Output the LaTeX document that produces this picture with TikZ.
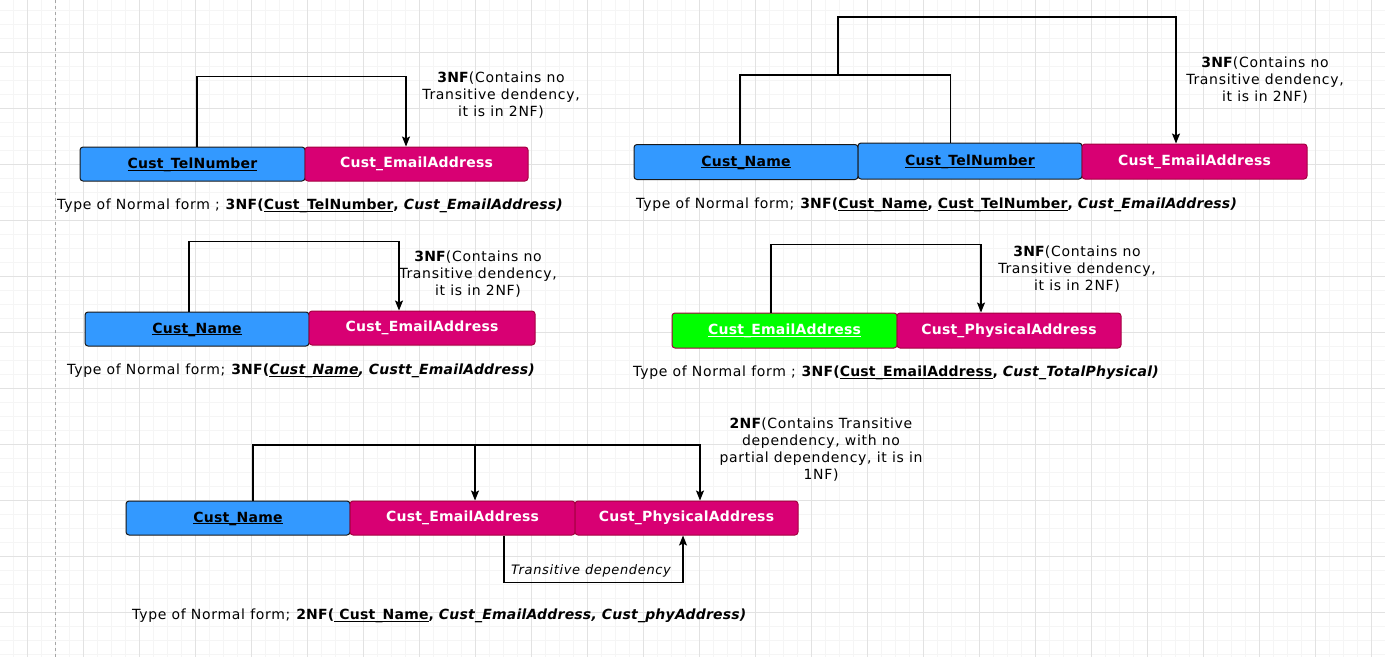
\documentclass[tikz,border=0pt]{standalone}
\usepackage{fontspec}
\setmainfont{DejaVu Sans}[LetterSpace=5,BoldFont={DejaVu Sans Bold},ItalicFont={DejaVu Sans Oblique},BoldItalicFont={DejaVu Sans Bold Oblique},BoldFeatures={LetterSpace=1.5},BoldItalicFeatures={LetterSpace=1.5}]
\usetikzlibrary{arrows.meta}
\definecolor{keyblue}{HTML}{3399FF}
\definecolor{attrpink}{HTML}{D80073}
\definecolor{attrline}{HTML}{A50040}
\definecolor{keygreen}{HTML}{00FF00}
\definecolor{gridmajor}{HTML}{E2E2E2}
\definecolor{gridminor}{HTML}{F5F5F5}
\newcommand\keyul[1]{\underline{\raisebox{0pt}[\height][0pt]{#1}}}
\tikzset{
  attr/.style={rectangle, rounded corners=3pt, minimum height=34pt, line width=1pt, inner sep=0pt, font=\fontsize{14}{16}\selectfont\bfseries},
  keyattr/.style={attr, fill=keyblue, draw=black!90, text=black},
  plainattr/.style={attr, fill=attrpink, draw=attrline, text=white},
  greenattr/.style={attr, fill=keygreen, draw=attrline, text=white},
  dep/.style={line width=1.2pt},
  deparrow/.style={dep, -{Stealth[length=10pt,width=8pt,inset=2pt]}},
  nfnote/.style={align=center, inner sep=0pt, font=\fontsize{14}{17}\selectfont},
  nfline/.style={anchor=west, inner sep=0pt, font=\fontsize{14}{17}\selectfont},
}
\begin{document}
\begin{tikzpicture}[x=1pt,y=-1pt]
  \useasboundingbox (0,0) rectangle (1385,657);
  \fill[white] (0,0) rectangle (1385,657);
  \foreach \gx in {-1,13,...,1385}{
    \draw[gridminor, line width=0.8pt] (\gx,0) -- (\gx,657);
  }
  \foreach \gy in {10,24,...,657}{
    \draw[gridminor, line width=0.8pt] (0,\gy) -- (1385,\gy);
  }
  \foreach \gx in {27,83,...,1385}{
    \draw[gridmajor, line width=1pt] (\gx,0) -- (\gx,657);
  }
  \foreach \gy in {52,108,...,657}{
    \draw[gridmajor, line width=1pt] (0,\gy) -- (1385,\gy);
  }
  \draw[gray!70, line width=0.8pt, dash pattern=on 3pt off 3pt] (55,0) -- (55,657);

  % TelNumber -> EmailAddress
  \node[keyattr, minimum width=225pt] (T1) at (192.5,164) {\keyul{Cust\_TelNumber}};
  \node[plainattr, minimum width=223pt] (E1) at (416.5,164) {Cust\_EmailAddress};
  \draw[deparrow] ([xshift=4.5pt]T1.north) -- ++(0,-70) -| ([xshift=-10.5pt]E1.north);
  \node[nfnote] (L1) at (501,95) {\textbf{3NF}(Contains no\\Transitive dendency,\\it is in 2NF)};
  \node[nfline] (F1) at (57,206) {Type of Normal form ; \textbf{3NF(\keyul{Cust\_TelNumber}, \textit{Cust\_EmailAddress)}}};

  % Name + TelNumber -> EmailAddress
  \node[keyattr, minimum width=224pt, minimum height=35pt] (N2) at (746,162) {\keyul{Cust\_Name}};
  \node[keyattr, minimum width=224pt, minimum height=36pt] (T2) at (970,161) {\keyul{Cust\_TelNumber}};
  \node[plainattr, minimum width=225pt, minimum height=35pt] (E2) at (1194.5,161.5) {Cust\_EmailAddress};
  \coordinate (J2) at (838,75);
  \draw[dep] ([xshift=-6pt]N2.north) |- (J2) -| ([xshift=-19.5pt]T2.north);
  \draw[deparrow] (J2) -- ++(0,-58) -| ([xshift=-18.5pt]E2.north);
  \node[nfnote] (L2) at (1265,80) {\textbf{3NF}(Contains no\\Transitive dendency,\\it is in 2NF)};
  \node[nfline] (F2) at (636,205) {Type of Normal form; \textbf{3NF(\keyul{Cust\_Name}, \keyul{Cust\_TelNumber}, \textit{Cust\_EmailAddress)}}};

  % Name -> EmailAddress
  \node[keyattr, minimum width=224pt] (N3) at (197,329) {\keyul{Cust\_Name}};
  \node[plainattr, minimum width=226pt] (E3) at (422,328) {Cust\_EmailAddress};
  \draw[deparrow] ([xshift=-8pt]N3.north) -- ++(0,-70) -| ([xshift=-23pt]E3.north);
  \node[nfnote] (L3) at (478,274) {\textbf{3NF}(Contains no\\Transitive dendency,\\it is in 2NF)};
  \node[nfline] (F3) at (67,371) {Type of Normal form; \textbf{3NF(\textit{\keyul{Cust\_Name}, Custt\_EmailAddress)}}};

  % EmailAddress -> PhysicalAddress
  \node[greenattr, minimum width=225pt, minimum height=35pt] (G4) at (784.5,330.5) {\keyul{Cust\_EmailAddress}};
  \node[plainattr, minimum width=224pt, minimum height=35pt] (P4) at (1009,330.5) {Cust\_PhysicalAddress};
  \draw[deparrow] ([xshift=-13.5pt]G4.north) -- ++(0,-68) -| ([xshift=-28pt]P4.north);
  \node[nfnote] (L4) at (1077,269) {\textbf{3NF}(Contains no\\Transitive dendency,\\it is in 2NF)};
  \node[nfline] (F4) at (633,373) {Type of Normal form ; \textbf{3NF(\keyul{Cust\_EmailAddress}, \textit{Cust\_TotalPhysical)}}};

  % Name -> EmailAddress -> PhysicalAddress
  \node[keyattr, minimum width=224pt] (N5) at (238,518) {\keyul{Cust\_Name}};
  \node[plainattr, minimum width=225pt] (E5) at (462.5,518) {Cust\_EmailAddress};
  \node[plainattr, minimum width=223pt] (P5) at (686.5,518) {Cust\_PhysicalAddress};
  \coordinate (J5) at (475,445);
  \draw[deparrow] ([xshift=15pt]N5.north) |- (J5) -| ([xshift=13.5pt]P5.north);
  \draw[deparrow] (J5) -- ([xshift=12.5pt]E5.north);
  \draw[deparrow] ([xshift=41.5pt]E5.south) -- ++(0,47) -| ([xshift=-3.5pt]P5.south);
  \node[font=\fontsize{13}{15}\selectfont\itshape] (TD) at (591,571) {Transitive dependency};
  \node[nfnote] (L5) at (821,450) {\textbf{2NF}(Contains Transitive\\dependency, with no\\partial dependency, it is in\\1NF)};
  \node[nfline] (F5) at (132,616) {Type of Normal form; \textbf{2NF(\keyul{\ Cust\_Name}, \textit{Cust\_EmailAddress, Cust\_phyAddress)}}};
\end{tikzpicture}
\end{document}
